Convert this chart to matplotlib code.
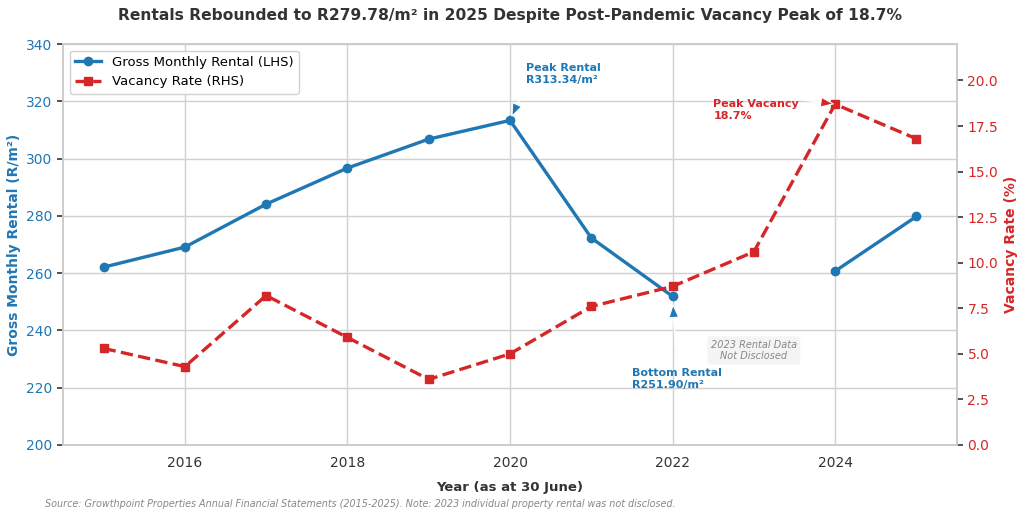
import numpy as np
import matplotlib
matplotlib.use("Agg")
import matplotlib.pyplot as plt

# Growthpoint rental vs vacancy data
years = [2015, 2016, 2017, 2018, 2019, 2020, 2021, 2022, 2023, 2024, 2025]
rental = [262.1, 269.1, 284.1, 296.7, 306.8, 313.34, 272.3, 251.90, np.nan, 260.7, 279.78]
vacancy = [5.3, 4.3, 8.2, 5.9, 3.6, 5.0, 7.6, 8.7, 10.6, 18.7, 16.8]

blue = '#1f77b4'
red = '#d62728'
grid_c = '#d0d0d0'

fig = plt.figure(figsize=(10.24, 5.16), dpi=100)
ax1 = fig.add_axes([0.0615, 0.1376, 0.8731, 0.7771])
ax2 = ax1.twinx()

l1, = ax1.plot(years, rental, color=blue, lw=2.4, marker='o', ms=6,
               label='Gross Monthly Rental (LHS)', zorder=3)
l2, = ax2.plot(years, vacancy, color=red, lw=2.4, ls='--', marker='s', ms=6,
               label='Vacancy Rate (RHS)', zorder=3)

ax1.set_xlim(2014.5, 2025.5)
ax1.set_ylim(200, 340)
ax2.set_ylim(0, 22)
ax1.set_xticks([2016, 2018, 2020, 2022, 2024])
ax1.set_yticks(np.arange(200, 341, 20))
ax2.set_yticks(np.arange(0, 20.1, 2.5))

ax1.grid(True, color=grid_c, lw=1)
ax1.set_axisbelow(True)
ax2.grid(False)
for ax in (ax1, ax2):
    for s in ax.spines.values():
        s.set_color('#cccccc')
        s.set_linewidth(1.2)

ax1.tick_params(axis='x', length=0, labelsize=10, labelcolor='#333333', pad=8)
ax1.tick_params(axis='y', length=4, width=1.2, color='#333333', labelsize=10, labelcolor=blue)
ax2.tick_params(axis='y', length=4, width=1.2, color='#333333', labelsize=10, labelcolor=red)

ax1.set_ylabel('Gross Monthly Rental (R/m²)', color=blue, fontsize=10, fontweight='bold')
ax2.set_ylabel('Vacancy Rate (%)', color=red, fontsize=10, fontweight='bold')
ax1.set_xlabel('Year (as at 30 June)', fontsize=9.5, fontweight='bold', color='#333333', labelpad=8)
ax1.set_title('Rentals Rebounded to R279.78/m² in 2025 Despite Post-Pandemic Vacancy Peak of 18.7%',
              fontsize=11.2, fontweight='bold', color='#333333', pad=17)

# annotations
ap = dict(shrink=0.12, width=0.5, headwidth=7, headlength=9, edgecolor='white', lw=0.8)
ax1.annotate('Peak Rental\nR313.34/m²', xy=(2020, 313.34), xytext=(2020.2, 326.5),
             color=blue, fontsize=8, fontweight='bold',
             arrowprops=dict(facecolor=blue, **ap))
ax1.annotate('Bottom Rental\nR251.90/m²', xy=(2022, 251.90), xytext=(2021.5, 220),
             color=blue, fontsize=8, fontweight='bold',
             arrowprops=dict(facecolor=blue, **ap))
ax2.annotate('Peak Vacancy\n18.7%', xy=(2024, 18.7), xytext=(2022.5, 17.9),
             color=red, fontsize=8, fontweight='bold',
             arrowprops=dict(facecolor=red, **dict(ap, shrink=0.05)))
ax1.text(2023, 233, '2023 Rental Data\nNot Disclosed', ha='center', va='center',
         fontsize=7, style='italic', color='#888888',
         bbox=dict(boxstyle='round,pad=0.35', facecolor='#f2f2f2', edgecolor='none', alpha=0.8))

ax1.legend(handles=[l1, l2], loc='upper left', fontsize=9.5, frameon=True,
           edgecolor='#cccccc', framealpha=0.9)

fig.text(0.044, 0.018, 'Source: Growthpoint Properties Annual Financial Statements (2015-2025). '
         'Note: 2023 individual property rental was not disclosed.',
         fontsize=6.9, style='italic', color='#888888')

fig.savefig('out.png', dpi=100)
